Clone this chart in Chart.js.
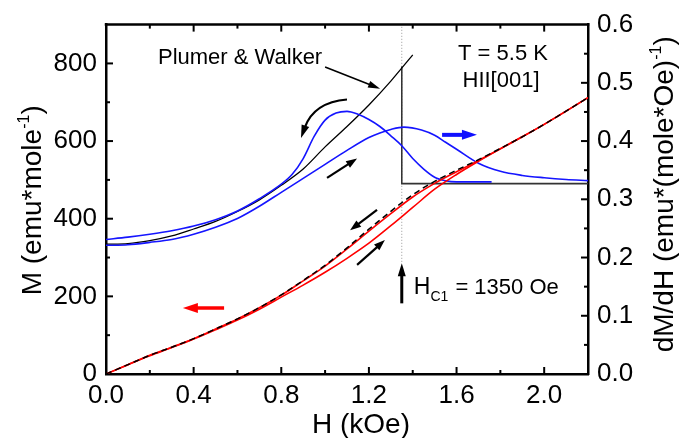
<!DOCTYPE html>
<html><head><meta charset="utf-8">
<script src="https://cdn.jsdelivr.net/npm/chart.js@4.4.1/dist/chart.umd.min.js"></script>
<style>html,body{margin:0;padding:0;background:#fff}canvas{display:block}</style>
</head><body>
<canvas id="c" width="688" height="438"></canvas>
<script>
// ---------- data (H in kOe) ----------
const H_M = [0,0.1,0.2,0.3,0.4,0.5,0.6,0.7,0.8,0.9,1.0,1.1,1.2,1.3,1.4,1.5,1.6,1.7,1.8,1.9,2.0,2.1,2.2];
const M_decreasing = [0,24,48,69,91,116,142,171,203,240,278,322,368,413,456,491,521,550,580,611,643,677,712];
const M_increasing = [0,24,47,68,90,114,139,167,198,229,262,298,337,382,429,476,514,548,580,611,643,677,712];
const M_theory     = [0,24,48,69,91,116,142,171,204,241,280,325,373,419,462,496,525,552,581,611,643,677,712];

const H_dA = [0,0.1,0.2,0.3,0.4,0.5,0.6,0.7,0.8,0.85,0.9,0.95,1.0,1.05,1.1,1.15,1.2,1.25,1.3,1.35,1.4,1.45,1.5,1.55,1.6,1.76];
const dMdH_decreasing = [0.231,0.235,0.240,0.246,0.254,0.265,0.280,0.301,0.326,0.343,0.370,0.408,0.436,0.448,0.451,0.446,0.437,0.425,0.409,0.392,0.370,0.352,0.338,0.332,0.330,0.330];

const H_dB = [0,0.1,0.2,0.3,0.4,0.5,0.6,0.7,0.8,0.9,1.0,1.1,1.2,1.25,1.3,1.36,1.44,1.5,1.55,1.6,1.7,1.8,1.9,2.0,2.1,2.2];
const dMdH_increasing = [0.221,0.222,0.226,0.231,0.240,0.252,0.267,0.288,0.312,0.336,0.360,0.384,0.406,0.414,0.420,0.424,0.419,0.410,0.398,0.386,0.362,0.348,0.341,0.337,0.334,0.332];

const H_th = [0,0.1,0.2,0.3,0.4,0.5,0.6,0.7,0.8,0.9,1.0,1.1,1.2,1.3,1.4];
const dMdH_theory = [0.223,0.224,0.229,0.237,0.249,0.262,0.279,0.299,0.324,0.352,0.390,0.425,0.462,0.503,0.548];

const HC1 = 1.35;                 // kOe
const H_step = [1.35,1.35,2.2];
const dMdH_step = [0.528,0.327,0.327];
const H_marker = [1.35,1.35];
const M_marker = [289,900];

const xTicks = [0,0.4,0.8,1.2,1.6,2.0];
const mTicks = [0,200,400,600,800];
const dTicks = [0,0.1,0.2,0.3,0.4,0.5,0.6];

// ---------- helpers ----------
const pts = (xs, ys) => xs.map((v, i) => ({x: v, y: ys[i]}));
Chart.defaults.font.family = '"Liberation Sans", Arial, sans-serif';
Chart.defaults.color = '#000';

const tickFont = {size: 26, family: '"Liberation Sans", Arial, sans-serif'};

function arrow(ctx, x0, y0, x1, y1, w, hl, hw, color) {
  const a = Math.atan2(y1 - y0, x1 - x0);
  const bx = x1 - hl * Math.cos(a), by = y1 - hl * Math.sin(a);
  ctx.strokeStyle = color; ctx.fillStyle = color; ctx.lineWidth = w; ctx.lineCap = 'butt';
  ctx.beginPath(); ctx.moveTo(x0, y0);
  ctx.lineTo(bx + 2 * Math.cos(a), by + 2 * Math.sin(a)); ctx.stroke();
  ctx.beginPath(); ctx.moveTo(x1, y1);
  ctx.lineTo(bx + hw / 2 * Math.sin(a), by - hw / 2 * Math.cos(a));
  ctx.lineTo(bx - hw / 2 * Math.sin(a), by + hw / 2 * Math.cos(a));
  ctx.closePath(); ctx.fill();
}

function rich(ctx, parts, cx, baseY) {
  let total = 0;
  parts.forEach(p => { ctx.font = p.size + 'px "Liberation Sans", Arial, sans-serif'; p.w = ctx.measureText(p.t).width; total += p.w; });
  let x = cx - total / 2;
  ctx.textAlign = 'left'; ctx.textBaseline = 'alphabetic';
  parts.forEach(p => { ctx.font = p.size + 'px "Liberation Sans", Arial, sans-serif'; ctx.fillText(p.t, x, baseY + (p.dy || 0)); x += p.w; });
}

// annotation arrows in data units (H kOe, M emu/mole)
const arrowsStraight = [
  {f:[1.000,791], t:[1.251,735], w:1.6, hl:12, hw:7, c:'#000'},
  {f:[1.009,505], t:[1.146,555], w:2.2, hl:11, hw:8, c:'#000'},
  {f:[1.237,423], t:[1.114,370], w:2.2, hl:11, hw:8, c:'#000'},
  {f:[1.146,281], t:[1.273,345], w:2.2, hl:11, hw:8, c:'#000'},
  {f:[1.534,616], t:[1.693,616], w:4, hl:15, hw:10, c:'#1010ff'},
  {f:[0.539,170], t:[0.351,170], w:3.5, hl:15, hw:10, c:'#ff0000'},
  {f:[HC1,182], t:[HC1,285], w:3, hl:13, hw:8, c:'#000'}
];
const arrowCurved = {p0:[1.100,707], c:[0.949,700], p2:[0.890,608]};

const deco = {
  id: 'deco',
  afterDraw(chart) {
    const {ctx, chartArea: ca, scales: {x, y, yR}} = chart;
    const P = (h, m) => [x.getPixelForValue(h), y.getPixelForValue(m)];
    ctx.save();
    // top frame
    ctx.strokeStyle = '#000'; ctx.lineWidth = 2.5;
    ctx.beginPath(); ctx.moveTo(ca.left - 1.25, ca.top); ctx.lineTo(ca.right + 1.25, ca.top); ctx.stroke();
    // inward ticks
    ctx.lineWidth = 2;
    const L = (a, b, c, d) => { ctx.beginPath(); ctx.moveTo(a, b); ctx.lineTo(c, d); ctx.stroke(); };
    for (let i = 1; i < 11; i++) {
      const p = x.getPixelForValue(i * 0.2), len = i % 2 === 0 ? 7 : 4;
      L(p, ca.bottom, p, ca.bottom - len); L(p, ca.top, p, ca.top + len);
    }
    for (let i = 1; i < 9; i++) {
      const p = y.getPixelForValue(i * 100), len = i % 2 === 0 ? 7 : 4;
      L(ca.left, p, ca.left + len, p);
    }
    for (let i = 1; i < 12; i++) {
      const p = yR.getPixelForValue(i * 0.05), len = i % 2 === 0 ? 7 : 4;
      L(ca.right, p, ca.right - len, p);
    }
    // arrows
    arrowsStraight.forEach(a => {
      const [x0, y0] = P(a.f[0], a.f[1]), [x1, y1] = P(a.t[0], a.t[1]);
      arrow(ctx, x0, y0, x1, y1, a.w, a.hl, a.hw, a.c);
    });
    {
      const [ax, ay] = P(...arrowCurved.p0), [cx, cy] = P(...arrowCurved.c), [bx, by] = P(...arrowCurved.p2);
      const ang = Math.atan2(by - cy, bx - cx), hl = 13, hw = 8;
      const ex = bx - (hl - 2) * Math.cos(ang), ey = by - (hl - 2) * Math.sin(ang);
      ctx.strokeStyle = '#000'; ctx.fillStyle = '#000'; ctx.lineWidth = 2.2; ctx.lineCap = 'butt';
      ctx.beginPath(); ctx.moveTo(ax, ay); ctx.quadraticCurveTo(cx, cy, ex, ey); ctx.stroke();
      const hx = bx - hl * Math.cos(ang), hy = by - hl * Math.sin(ang);
      ctx.beginPath(); ctx.moveTo(bx, by);
      ctx.lineTo(hx + hw / 2 * Math.sin(ang), hy - hw / 2 * Math.cos(ang));
      ctx.lineTo(hx - hw / 2 * Math.sin(ang), hy + hw / 2 * Math.cos(ang));
      ctx.closePath(); ctx.fill();
    }
    // annotation texts
    ctx.fillStyle = '#000';
    let q = P(0.612, 798); rich(ctx, [{t:'Plumer & Walker', size:22}], q[0], q[1]);
    q = P(1.812, 809); rich(ctx, [{t:'T = 5.5 K', size:22}], q[0], q[1]);
    q = P(1.803, 738); rich(ctx, [{t:'HII[001]', size:22}], q[0], q[1]);
    q = P(HC1, 205);
    ctx.textAlign = 'left'; ctx.textBaseline = 'alphabetic';
    ctx.font = '23px "Liberation Sans", Arial, sans-serif';
    const hx0 = q[0] + 12; ctx.fillText('H', hx0, q[1]);
    const wH = ctx.measureText('H').width;
    ctx.font = '14px "Liberation Sans", Arial, sans-serif';
    ctx.fillText('C1', hx0 + wH, q[1] + 7);
    const wC = ctx.measureText('C1').width;
    ctx.font = '22px "Liberation Sans", Arial, sans-serif';
    ctx.fillText(' = 1350 Oe', hx0 + wH + wC + 1, q[1]);
    // axis titles
    ctx.save(); ctx.translate(41, (ca.top + ca.bottom) / 2 + 1); ctx.rotate(-Math.PI / 2);
    rich(ctx, [{t:'M (emu*mole', size:28}, {t:'-1', size:16, dy:-12}, {t:')', size:28}], 0, 0);
    ctx.restore();
    ctx.save(); ctx.translate(673, (ca.top + ca.bottom) / 2 - 5); ctx.rotate(-Math.PI / 2);
    rich(ctx, [{t:'dM/dH (emu*(mole*Oe)', size:28}, {t:'-1', size:16, dy:-12}, {t:')', size:28}], 0, 0);
    ctx.restore();
    rich(ctx, [{t:'H (kOe)', size:28}], 361, 433);
    ctx.restore();
  }
};

const common = {pointRadius: 0, fill: false, borderJoinStyle: 'round', cubicInterpolationMode: 'monotone'};

new Chart(document.getElementById('c'), {
  type: 'line',
  data: {
    datasets: [
      {...common, data: pts(H_M, M_theory), borderColor: '#000', borderWidth: 1.5, borderDash: [6, 4], yAxisID: 'y', order: 0},
      {...common, data: pts(H_M, M_decreasing), borderColor: '#ff0000', borderWidth: 1.6, yAxisID: 'y', order: 1},
      {...common, data: pts(H_M, M_increasing), borderColor: '#ff0000', borderWidth: 1.6, yAxisID: 'y', order: 1},
      {...common, data: pts(H_dA, dMdH_decreasing), borderColor: '#1515ff', borderWidth: 1.6, yAxisID: 'yR', order: 2},
      {...common, data: pts(H_dB, dMdH_increasing), borderColor: '#1515ff', borderWidth: 1.6, yAxisID: 'yR', order: 2},
      {...common, data: pts(H_th, dMdH_theory), borderColor: '#000', borderWidth: 1.3, yAxisID: 'yR', order: 3},
      {pointRadius: 0, fill: false, tension: 0, data: pts(H_step, dMdH_step), borderColor: '#333', borderWidth: 1.6, yAxisID: 'yR', order: 3},
      {pointRadius: 0, fill: false, tension: 0, data: pts(H_marker, M_marker), borderColor: '#999', borderWidth: 1, borderDash: [1, 2], yAxisID: 'y', order: 4}
    ]
  },
  options: {
    responsive: false, animation: false, devicePixelRatio: 1,
    layout: {padding: {top: 19, left: 0, right: 0, bottom: 0}},
    plugins: {legend: {display: false}, tooltip: {enabled: false}},
    scales: {
      x: {
        type: 'linear', position: 'bottom', min: 0, max: 2.2,
        afterBuildTicks: s => { s.ticks = xTicks.map(v => ({value: v})); },
        ticks: {font: tickFont, color: '#000', padding: 6, maxRotation: 0, autoSkip: false, callback: v => Number(v).toFixed(1)},
        grid: {display: false, drawTicks: false},
        border: {display: true, width: 2.5, color: '#000'},
        afterFit: s => { s.height = 64; }
      },
      y: {
        type: 'linear', position: 'left', min: 0, max: 900,
        afterBuildTicks: s => { s.ticks = mTicks.map(v => ({value: v})); },
        ticks: {font: tickFont, color: '#000', padding: 9, autoSkip: false, callback: v => String(v)},
        grid: {display: false, drawTicks: false},
        border: {display: true, width: 2.5, color: '#000'},
        afterFit: s => { s.width = 106; }
      },
      yR: {
        type: 'linear', position: 'right', min: 0, max: 0.6,
        afterBuildTicks: s => { s.ticks = dTicks.map(v => ({value: v})); },
        ticks: {font: tickFont, color: '#000', padding: 9, autoSkip: false, callback: v => Number(v).toFixed(1)},
        grid: {display: false, drawTicks: false},
        border: {display: true, width: 2.5, color: '#000'},
        afterFit: s => { s.width = 100; }
      }
    }
  },
  plugins: [deco]
});
</script>
</body></html>
